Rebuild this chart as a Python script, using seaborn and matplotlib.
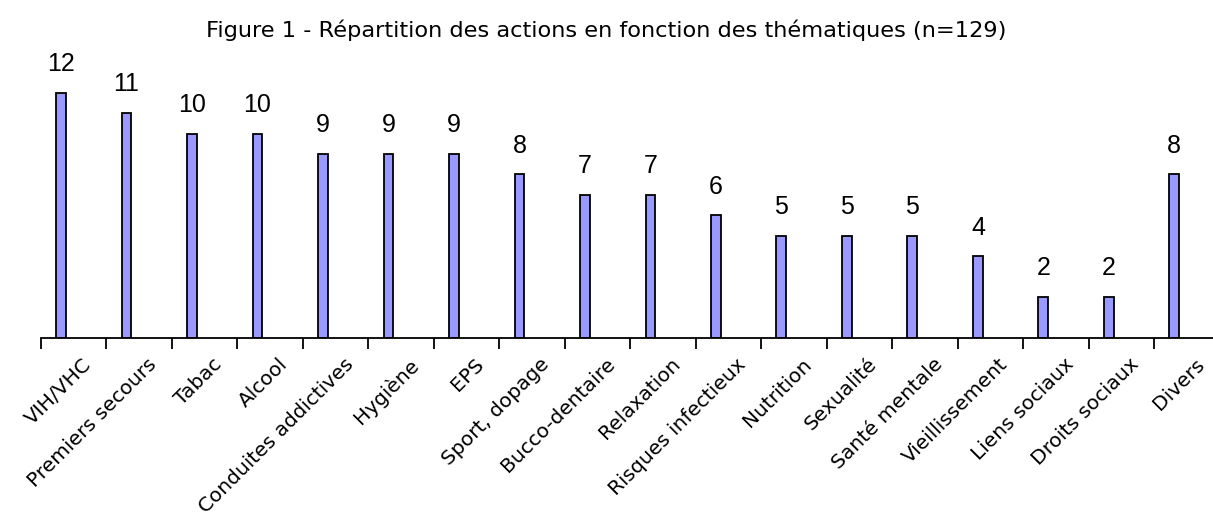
import matplotlib
matplotlib.use("Agg")
import matplotlib.pyplot as plt
import seaborn as sns
import pandas as pd

# Data
themes = ["VIH/VHC", "Premiers secours", "Tabac", "Alcool", "Conduites addictives",
          "Hygiène", "EPS", "Sport, dopage", "Bucco-dentaire", "Relaxation",
          "Risques infectieux", "Nutrition", "Sexualité", "Santé mentale",
          "Vieillissement", "Liens sociaux", "Droits sociaux", "Divers"]
counts = [12, 11, 10, 10, 9, 9, 9, 8, 7, 7, 6, 5, 5, 5, 4, 2, 2, 8]
title = "Figure 1 - Répartition des actions en fonction des thématiques (n=129)"

df = pd.DataFrame({"theme": themes, "n": counts})

sns.set_style("white")
plt.rcParams['font.family'] = ['DejaVu Sans']
plt.rcParams['text.color'] = 'black'
plt.rcParams['xtick.color'] = 'black'
plt.rcParams['axes.edgecolor'] = 'black'

fig = plt.figure(figsize=(12.13, 5.31), dpi=100)
ax = fig.add_axes([41 / 1213, 1 - 338 / 531, 1 - 41 / 1213, (338 - 82.4) / 531])

sns.barplot(data=df, x="theme", y="n", color="#9999FF", width=0.15,
            edgecolor="black", linewidth=1.3, saturation=1, ax=ax)

# value labels
ax.bar_label(ax.containers[0], padding=12, fontsize=18, family="Liberation Sans",
             color="black")

# axis styling
off = 0.305
ax.set_xlim(-off, 17.59)
ax.set_ylim(0, 12.5)
ax.set_yticks([])
ax.set_xlabel("")
ax.set_ylabel("")
for s in ["left", "right", "top"]:
    ax.spines[s].set_visible(False)
ax.spines["bottom"].set_linewidth(1.3)

n = len(themes)
ax.set_xticks([i - off for i in range(n)])
ax.set_xticklabels([])
ax.tick_params(axis="x", which="major", direction="out", length=8, width=1.3, bottom=True)
ax.set_xticks([i - off + 0.5 + 0.12 for i in range(n)], minor=True)
ax.set_xticklabels(themes, minor=True, rotation=45, ha="right", rotation_mode="anchor",
                   fontsize=14.5, color="black")
ax.tick_params(axis="x", which="minor", length=0, pad=12)

fig.suptitle(title, fontsize=16.2, y=1 - 30 / 531, va="center", color="black")

fig.savefig("out.png", dpi=100)
